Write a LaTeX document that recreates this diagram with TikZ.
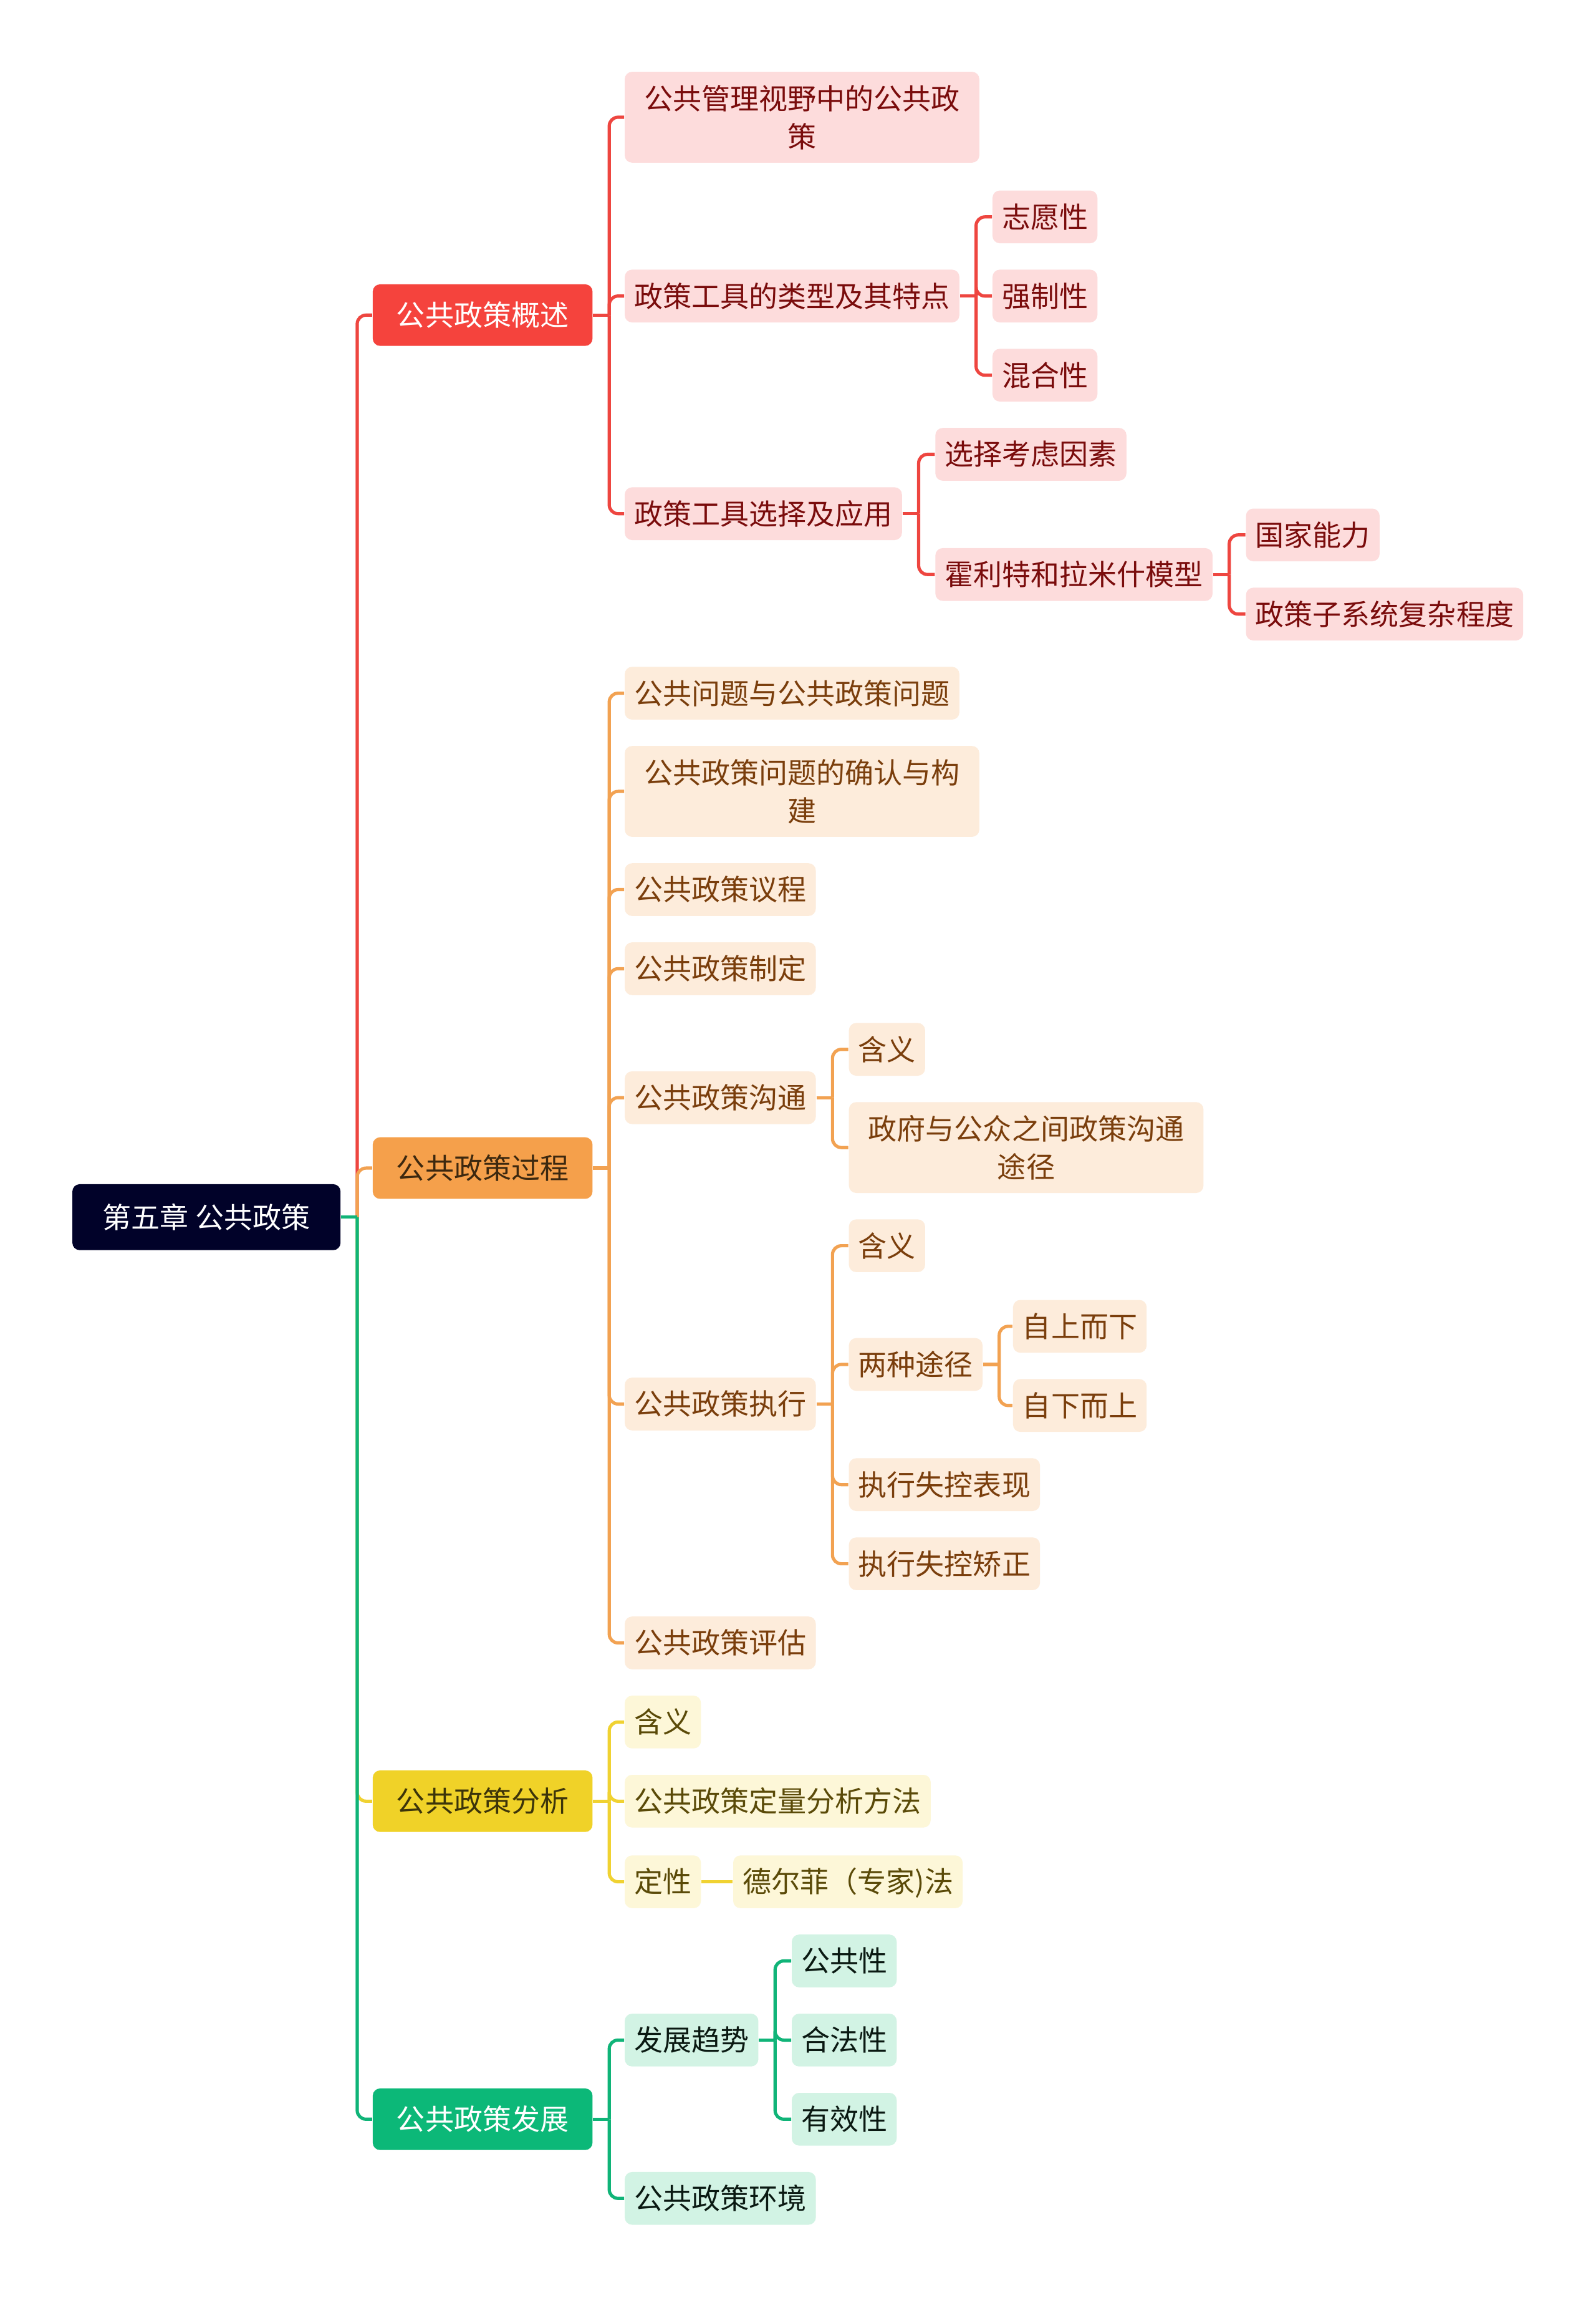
\documentclass[tikz,border=0pt]{standalone}
\usepackage{fontspec}
\setmainfont{Noto Sans CJK SC}
\definecolor{rootc}{RGB}{1,2,41}
\definecolor{redm}{RGB}{245,67,61}
\definecolor{redl}{RGB}{253,220,220}
\definecolor{redt}{RGB}{122,12,12}
\definecolor{redln}{RGB}{238,70,64}
\definecolor{orm}{RGB}{245,160,75}
\definecolor{orl}{RGB}{253,236,219}
\definecolor{ort}{RGB}{122,62,12}
\definecolor{ormt}{RGB}{60,40,15}
\definecolor{orln}{RGB}{242,162,82}
\definecolor{yem}{RGB}{240,210,40}
\definecolor{yel}{RGB}{253,247,216}
\definecolor{yet}{RGB}{90,74,8}
\definecolor{yemt}{RGB}{60,52,10}
\definecolor{yeln}{RGB}{240,210,50}
\definecolor{grm}{RGB}{12,184,120}
\definecolor{grl}{RGB}{210,243,228}
\definecolor{grt}{RGB}{10,25,18}
\definecolor{grln}{RGB}{16,180,120}
\newcommand\mmbranch[3]{%
  \draw[#1] (#2.east) -- ([xshift=5.5pt]#2.east);
  \foreach \c in {#3} {\draw[#1, rounded corners=3pt] ([xshift=5.5pt]#2.east) |- (\c.west);}
}
\begin{document}
\begin{tikzpicture}[x=0.5pt,y=-0.5pt,
  base/.style={rounded corners=2.5pt, inner xsep=3.2pt, inner ysep=0pt, anchor=west,
    font=\fontsize{9.8pt}{13pt}\selectfont},
  one/.style={base, minimum height=18pt, text height=8.6pt, text depth=1.2pt},
  two/.style={base, minimum height=31pt, minimum width=121pt, align=center},
  lone/.style={one, minimum height=21pt, minimum width=75pt, inner xsep=8pt},
  rootbox/.style={one, minimum height=22.5pt, minimum width=91.5pt, inner xsep=10pt, fill=rootc, text=white},
  rc/.style={fill=redl, text=redt},
  oc/.style={fill=orl, text=ort},
  yc/.style={fill=yel, text=yet},
  gc/.style={fill=grl, text=grt},
  rline/.style={draw=redln, line width=1.1pt},
  oline/.style={draw=orln, line width=1.1pt},
  yline/.style={draw=yeln, line width=1.1pt},
  gline/.style={draw=grln, line width=1.1pt}
]
\fill[white] (0,0) rectangle (1089,1568);
\useasboundingbox (0,0) rectangle (1089,1568);

% root and main topics
\node[rootbox] (root) at (49,830.5) {第五章 公共政策};
\node[lone, fill=redm, text=white] (k1) at (254,215) {公共政策概述};
\node[lone, fill=orm, text=ormt] (k2) at (254,797) {公共政策过程};
\node[lone, fill=yem, text=yemt] (k3) at (254,1229) {公共政策分析};
\node[lone, fill=grm, text=white] (k4) at (254,1446) {公共政策发展};

% red branch
\node[two, rc] (a1) at (426,80) {公共管理视野中的公共政\\策};
\node[one, rc] (a2) at (426,202) {政策工具的类型及其特点};
\node[one, rc] (a3) at (426,350.5) {政策工具选择及应用};
\node[one, rc] (a21) at (677,148) {志愿性};
\node[one, rc] (a22) at (677,202) {强制性};
\node[one, rc] (a23) at (677,256) {混合性};
\node[one, rc] (a31) at (638,310) {选择考虑因素};
\node[one, rc] (a32) at (638,392) {霍利特和拉米什模型};
\node[one, rc] (a321) at (850,365) {国家能力};
\node[one, rc] (a322) at (850,419) {政策子系统复杂程度};

% orange branch
\node[one, oc] (b1) at (426,473) {公共问题与公共政策问题};
\node[two, oc] (b2) at (426,540) {公共政策问题的确认与构\\建};
\node[one, oc] (b3) at (426,607) {公共政策议程};
\node[one, oc] (b4) at (426,661) {公共政策制定};
\node[one, oc] (b5) at (426,749) {公共政策沟通};
\node[one, oc] (b6) at (426,958) {公共政策执行};
\node[one, oc] (b7) at (426,1121) {公共政策评估};
\node[one, oc] (b51) at (579,716) {含义};
\node[two, oc] (b52) at (579,783) {政府与公众之间政策沟通\\途径};
\node[one, oc] (b61) at (579,850) {含义};
\node[one, oc] (b62) at (579,931) {两种途径};
\node[one, oc] (b63) at (579,1013) {执行失控表现};
\node[one, oc] (b64) at (579,1067) {执行失控矫正};
\node[one, oc] (b621) at (691,905) {自上而下};
\node[one, oc] (b622) at (691,959) {自下而上};

% yellow branch
\node[one, yc] (c1) at (426,1175) {含义};
\node[one, yc] (c2) at (426,1229) {公共政策定量分析方法};
\node[one, yc] (c3) at (426,1284) {定性};
\node[one, yc] (c31) at (500,1284) {德尔菲（专家)法};

% green branch
\node[one, gc] (d1) at (426,1392) {发展趋势};
\node[one, gc] (d2) at (426,1500) {公共政策环境};
\node[one, gc] (d11) at (540,1338) {公共性};
\node[one, gc] (d12) at (540,1392) {合法性};
\node[one, gc] (d13) at (540,1446) {有效性};

% connectors
\mmbranch{rline}{root}{k1}
\mmbranch{oline}{root}{k2}
\mmbranch{yline}{root}{k3}
\mmbranch{gline}{root}{k4}

\mmbranch{rline}{k1}{a1,a2,a3}
\mmbranch{rline}{a2}{a21,a22,a23}
\mmbranch{rline}{a3}{a31,a32}
\mmbranch{rline}{a32}{a321,a322}

\mmbranch{oline}{k2}{b1,b2,b3,b4,b5,b6,b7}
\mmbranch{oline}{b5}{b51,b52}
\mmbranch{oline}{b6}{b61,b62,b63,b64}
\mmbranch{oline}{b62}{b621,b622}

\mmbranch{yline}{k3}{c1,c2,c3}
\draw[yline] (c3.east) -- (c31.west);

\mmbranch{gline}{k4}{d1,d2}
\mmbranch{gline}{d1}{d11,d12,d13}
\end{tikzpicture}
\end{document}
